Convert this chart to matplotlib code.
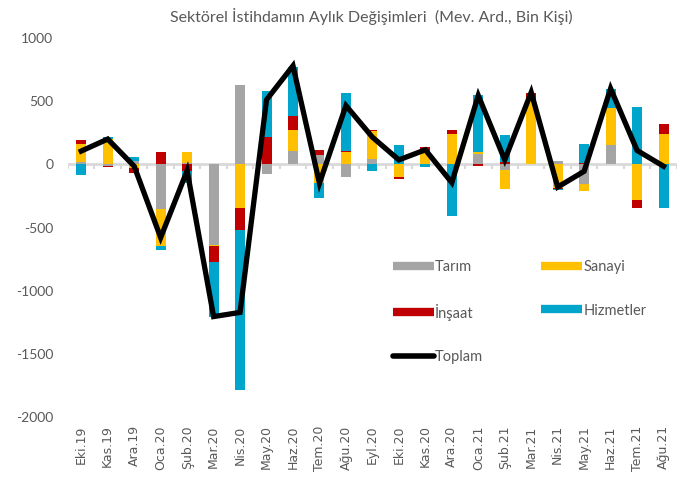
import numpy as np
import matplotlib
matplotlib.use("Agg")
import matplotlib.pyplot as plt
from matplotlib.lines import Line2D

months = ["Eki.19", "Kas.19", "Ara.19", "Oca.20", "Şub.20", "Mar.20", "Nis.20",
          "May.20", "Haz.20", "Tem.20", "Ağu.20", "Eyl.20", "Eki.20", "Kas.20",
          "Ara.20", "Oca.21", "Şub.21", "Mar.21", "Nis.21", "May.21", "Haz.21",
          "Tem.21", "Ağu.21"]

tarim = [20, -15, 30, -350, 10, -635, 624, -74, 105, 70, -100, 45,
         0, 0, 0, 84, -45, 0, 25, -153, 150, 0, 0]
sanayi = [140, 200, -30, -295, 90, -10, -342, 0, 163, -150, 97, 215,
          -100, 90, 237, 13, -150, 510, -185, -58, 298, -284, 237]
insaat = [30, -10, -35, 95, -50, -126, -179, 219, 111, 45, 5, 10,
          -15, 45, 32, -10, 15, 55, -10, 8, 0, -58, 84]
hizmetler = [-85, 20, 25, -35, -95, -434, -1269, 361, 390, -115, 461, -55,
             150, -21, -408, 455, 215, 0, -10, 150, 145, 453, -342]
toplam = [105, 200, -15, -580, -50, -1205, -1172, 511, 780, -150, 465, 215,
          35, 115, -145, 545, 35, 570, -180, -55, 600, 110, -15]

series = [("Tarım", tarim, "#A5A5A5"),
          ("Sanayi", sanayi, "#FFC000"),
          ("İnşaat", insaat, "#C00000"),
          ("Hizmetler", hizmetler, "#00A5CC")]

txt = "#595959"

fig = plt.figure(figsize=(6.92, 4.87), dpi=100)
ax = fig.add_axes([0.0983, 0.1437, 0.8797, 0.7783])

x = np.arange(len(months))
w = 0.38
pos_base = np.zeros(len(x))
neg_base = np.zeros(len(x))
handles = {}
for name, vals, color in series:
    v = np.array(vals, dtype=float)
    pos = np.where(v > 0, v, 0)
    neg = np.where(v < 0, v, 0)
    ax.bar(x, pos, w, bottom=pos_base, color=color, zorder=3)
    ax.bar(x, neg, w, bottom=neg_base, color=color, zorder=3)
    pos_base += pos
    neg_base += neg
    handles[name] = Line2D([], [], color=color, lw=6, solid_capstyle="butt")

# zero axis line with small ticks between categories
ax.axhline(0, color="#D9D9D9", lw=2, zorder=2)
ax.vlines(np.arange(-0.5, len(x)), -35, 0, color="#D9D9D9", lw=1.5, zorder=2)

line, = ax.plot(x, toplam, color="black", lw=3.8, zorder=4,
                solid_joinstyle="miter")
handles["Toplam"] = Line2D([], [], color="black", lw=4, solid_capstyle="round")

ax.set_xlim(-0.5, len(x) - 0.5)
ax.set_ylim(-2000, 1000)
ax.set_yticks([1000, 500, 0, -500, -1000, -1500, -2000])
ax.set_yticklabels(["1000", "500", "0", "-500", "-1000", "-1500", "-2000"],
                   family="Lato", fontsize=10, color=txt)
ax.set_xticks(x)
ax.set_xticklabels(months, rotation=90, family="DejaVu Sans", fontsize=9,
                   color=txt)
ax.tick_params(length=0)
ax.tick_params(axis="y", pad=10.5)
ax.tick_params(axis="x", pad=6)
for s in ax.spines.values():
    s.set_visible(False)

fig.text(0.537, 0.967, "Sektörel İstihdamın Aylık Değişimleri  (Mev. Ard., Bin Kişi)",
         ha="center", va="center", family="Lato", fontsize=11.5, color=txt)

order = ["Tarım", "İnşaat", "Toplam", "Sanayi", "Hizmetler"]
leg = ax.legend([handles[k] for k in order], order,
                ncol=2, frameon=False, loc="upper left",
                bbox_to_anchor=(0.512, 0.448), handlelength=2.8,
                labelspacing=2.0, columnspacing=3.95,
                handletextpad=0.1, prop={"family": "Lato", "size": 10.5})
for t in leg.get_texts():
    t.set_color(txt)

fig.savefig("out.png", dpi=100)
